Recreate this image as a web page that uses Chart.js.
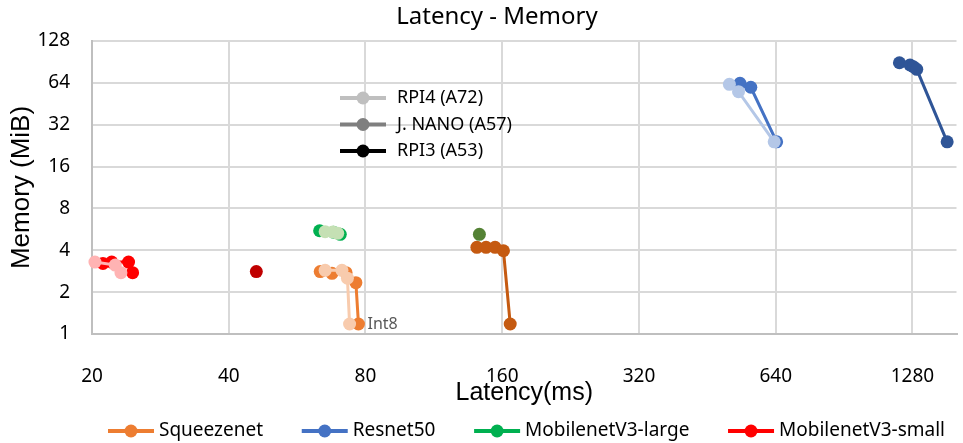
<!DOCTYPE html>
<html>
<head>
<meta charset="utf-8">
<script src="https://cdn.jsdelivr.net/npm/chart.js@4.4.0/dist/chart.umd.min.js"></script>
<style>
html, body { margin: 0; padding: 0; background: #fff; }
#wrap { width: 963px; height: 443px; }
</style>
</head>
<body>
<div id="wrap"><canvas id="chart" width="963" height="443"></canvas></div>
<script>
const xTicks = [20, 40, 80, 160, 320, 640, 1280];
const yTicks = [1, 2, 4, 8, 16, 32, 64, 128];
const models = ['Squeezenet', 'Resnet50', 'MobilenetV3-large', 'MobilenetV3-small'];
const devices = ['RPI4 (A72)', 'J. NANO (A57)', 'RPI3 (A53)'];

// latency (ms) and memory (MiB)
const squeezeRpi4Lat = [65.2, 71.0, 73.0, 73.8];
const squeezeRpi4Mem = [2.87, 2.87, 2.52, 1.18];
const squeezeNanoLat = [63.6, 67.5, 72.5, 76.2, 77.2];
const squeezeNanoMem = [2.81, 2.73, 2.76, 2.34, 1.18];
const squeezeRpi3Lat = [140.7, 147.4, 154.3, 161.0, 166.6];
const squeezeRpi3Mem = [4.2, 4.2, 4.2, 3.97, 1.18];

const resnetRpi4Lat = [506, 530, 635];
const resnetRpi4Mem = [62.5, 55.3, 24.1];
const resnetNanoLat = [534, 564, 643];
const resnetNanoMem = [63.5, 59.5, 24.1];
const resnetRpi3Lat = [1198, 1264, 1286, 1308, 1526];
const resnetRpi3Mem = [89.3, 86.0, 83.6, 80.1, 24.1];

const largeRpi4Lat = [65.2, 67.8, 69.5];
const largeRpi4Mem = [5.44, 5.42, 5.3];
const largeNanoLat = [63.4, 68.0, 70.4];
const largeNanoMem = [5.53, 5.39, 5.21];
const largeRpi3Lat = [142.5];
const largeRpi3Mem = [5.21];

const smallRpi4Lat = [20.3, 22.5, 23.16];
const smallRpi4Mem = [3.29, 3.13, 2.76];
const smallNanoLat = [21.14, 22.1, 24.07, 24.57];
const smallNanoMem = [3.22, 3.29, 3.29, 2.76];
const smallRpi3Lat = [46.0];
const smallRpi3Mem = [2.81];

// colours: [RPI4, J.NANO, RPI3] per model
const colors = {
    'Squeezenet': ['#F8CBAD', '#ED7D31', '#C55A11'],
    'Resnet50': ['#B4C7E7', '#4472C4', '#2F5597'],
    'MobilenetV3-large': ['#C5E0B4', '#00B050', '#548235'],
    'MobilenetV3-small': ['#FFB3B3', '#FF0000', '#C00000']
};
const deviceColors = ['#BFBFBF', '#7F7F7F', '#000000'];

function series(model, dev, lat, mem) {
    const c = colors[model][dev];
    return {
        label: model + ' ' + devices[dev],
        data: lat.map((v, i) => ({x: v, y: mem[i]})),
        showLine: true,
        borderColor: c,
        backgroundColor: c,
        borderWidth: 3,
        pointRadius: 6.5,
        pointHoverRadius: 6.5,
        pointBorderWidth: 0,
        clip: false
    };
}

const datasets = [
    series('MobilenetV3-small', 0, smallRpi4Lat, smallRpi4Mem),
    series('MobilenetV3-small', 1, smallNanoLat, smallNanoMem),
    series('MobilenetV3-small', 2, smallRpi3Lat, smallRpi3Mem),
    series('MobilenetV3-large', 0, largeRpi4Lat, largeRpi4Mem),
    series('MobilenetV3-large', 1, largeNanoLat, largeNanoMem),
    series('MobilenetV3-large', 2, largeRpi3Lat, largeRpi3Mem),
    series('Squeezenet', 0, squeezeRpi4Lat, squeezeRpi4Mem),
    series('Squeezenet', 1, squeezeNanoLat, squeezeNanoMem),
    series('Squeezenet', 2, squeezeRpi3Lat, squeezeRpi3Mem),
    series('Resnet50', 0, resnetRpi4Lat, resnetRpi4Mem),
    series('Resnet50', 1, resnetNanoLat, resnetNanoMem),
    series('Resnet50', 2, resnetRpi3Lat, resnetRpi3Mem)
];

function legendEntry(ctx, x, y, color, text, textGap) {
    ctx.strokeStyle = color;
    ctx.fillStyle = color;
    ctx.lineWidth = 4;
    ctx.beginPath();
    ctx.moveTo(x, y);
    ctx.lineTo(x + 46, y);
    ctx.stroke();
    ctx.beginPath();
    ctx.arc(x + 23, y, 6.5, 0, Math.PI * 2);
    ctx.fill();
    ctx.fillStyle = '#000';
    ctx.fillText(text, x + 46 + textGap, y);
}

const extras = {
    id: 'extras',
    afterDraw(chart) {
        const ctx = chart.ctx;
        const xs = chart.scales.x, ys = chart.scales.y;
        ctx.save();
        // title
        ctx.fillStyle = '#000';
        ctx.font = "24px 'Noto Sans'";
        ctx.textAlign = 'center';
        ctx.textBaseline = 'middle';
        ctx.fillText('Latency - Memory', 497, 17);

        // Int8 note
        ctx.fillStyle = '#595959';
        ctx.font = "16px 'Noto Sans'";
        ctx.textAlign = 'left';
        ctx.fillText('Int8', xs.getPixelForValue(squeezeNanoLat[4]) + 9, ys.getPixelForValue(squeezeNanoMem[4]));

        // device legend
        ctx.font = "18px 'Noto Sans'";
        devices.forEach((d, i) => {
            legendEntry(ctx, 340, 98 + i * 26.5, deviceColors[i], d, 11);
        });

        // model legend along the bottom
        ctx.font = "19px 'Noto Sans'";
        const left = 108, right = 945;
        const widths = models.map(m => 51 + ctx.measureText(m).width);
        const gap = (right - left - widths.reduce((a, b) => a + b, 0)) / (models.length - 1);
        let x = left;
        models.forEach((m, i) => {
            legendEntry(ctx, x, 431, colors[m][1], m, 5);
            x += widths[i] + gap;
        });
        ctx.restore();
    }
};

Chart.defaults.font.family = "'Noto Sans', sans-serif";
Chart.defaults.color = '#000';

new Chart(document.getElementById('chart'), {
    type: 'scatter',
    data: { datasets: datasets },
    options: {
        responsive: false,
        animation: false,
        events: [],
        layout: { padding: { top: 41, right: 6, left: 0, bottom: 31 } },
        scales: {
            x: {
                type: 'logarithmic',
                min: 20,
                max: 1600,
                afterBuildTicks: s => { s.ticks = xTicks.map(v => ({value: v})); },
                afterFit: s => { s.height = 78; s.paddingLeft = 0; s.paddingRight = 0; },
                ticks: {
                    callback: v => String(v),
                    autoSkip: false,
                    maxRotation: 0,
                    padding: 31,
                    font: { size: 19 }
                },
                grid: { color: '#D9D9D9', lineWidth: 2, drawTicks: false },
                border: { color: '#BFBFBF', width: 2 },
                title: {
                    display: true,
                    text: 'Latency(ms)',
                    font: { family: "'Liberation Sans'", size: 25 },
                    padding: { top: 0, bottom: 4 }
                }
            },
            y: {
                type: 'logarithmic',
                min: 1,
                max: 128,
                afterBuildTicks: s => { s.ticks = yTicks.map(v => ({value: v})); },
                afterFit: s => { s.width = 92; s.paddingTop = 0; s.paddingBottom = 0; },
                ticks: {
                    callback: v => String(v),
                    autoSkip: false,
                    padding: 22,
                    font: { size: 19 }
                },
                grid: { color: '#D9D9D9', lineWidth: 2, drawTicks: false },
                border: { color: '#BFBFBF', width: 2 },
                title: {
                    display: true,
                    text: 'Memory (MiB)',
                    font: { family: "'Liberation Sans'", size: 26 },
                    padding: { top: 6, bottom: 0 }
                }
            }
        },
        plugins: {
            title: { display: false },
            tooltip: { enabled: false },
            legend: { display: false }
        }
    },
    plugins: [extras]
});
</script>
</body>
</html>
